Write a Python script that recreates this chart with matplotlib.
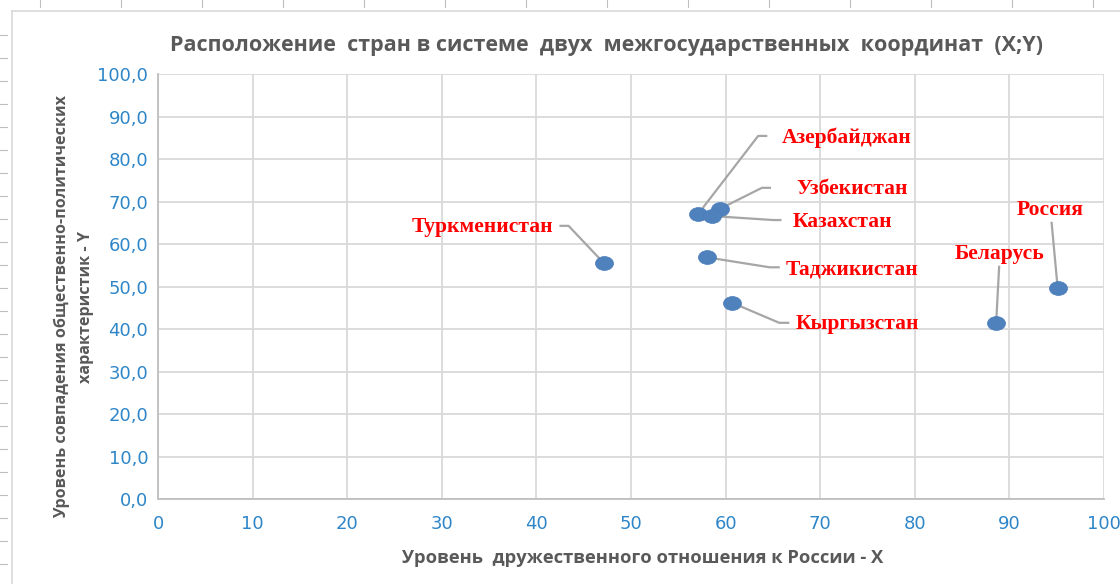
import matplotlib
matplotlib.use("Agg")
import matplotlib.pyplot as plt
from matplotlib.path import Path
from matplotlib.transforms import Affine2D
from matplotlib.lines import Line2D
import numpy as np

# ---------------- data ----------------
countries = ["Азербайджан", "Узбекистан", "Казахстан", "Таджикистан",
             "Кыргызстан", "Туркменистан", "Беларусь", "Россия"]
x_values = [57.1, 59.4, 58.6, 58.0, 60.7, 47.1, 88.6, 95.1]
y_values = [67.1, 68.3, 66.6, 56.9, 46.2, 55.6, 41.5, 49.7]
x_ticks = [0, 10, 20, 30, 40, 50, 60, 70, 80, 90, 100]
y_ticks = [0, 10, 20, 30, 40, 50, 60, 70, 80, 90, 100]

title = "Расположение  стран в системе  двух  межгосударственных  координат  (X;Y)"
xlabel = "Уровень  дружественного отношения к России - X"
ylabel = "Уровень совпадения общественно-политических\nхарактеристик - Y"

# leader-line layout in pixel offsets from the marker (image coords, y down):
# (list of vertices after the marker), text anchor offset, horizontal alignment
layout = {
    "Азербайджан": ([(60, -78), (68, -78)], (84, -76), "left"),
    "Узбекистан": ([(42, -21), (50, -21)], (77, -20), "left"),
    "Казахстан": ([(61, 4), (68, 4)], (80, 6), "left"),
    "Таджикистан": ([(63, 10), (72, 10)], (79, 12), "left"),
    "Кыргызстан": ([(47, 20), (56, 20)], (63, 21), "left"),
    "Туркменистан": ([(-35, -37), (-43, -37)], (-50, -36), "right"),
    "Беларусь": ([(3, -56)], (3, -69), "center"),
    "Россия": ([(-6, -65)], (-7, -78), "center"),
}

W, H = 1120, 584
fig = plt.figure(figsize=(W / 100, H / 100), dpi=100)
fig.patch.set_facecolor("white")

# chart-area border (screenshot frame)
fig.add_artist(Line2D([12 / W, 1.0], [1 - 11 / H, 1 - 11 / H], color="#D9D9D9", lw=1.2))
fig.add_artist(Line2D([12 / W, 12 / W], [0, 1 - 11 / H], color="#D9D9D9", lw=1.2))
for yy in range(35, 584, 23):
    fig.add_artist(Line2D([0, 7 / W], [1 - yy / H] * 2, color="#BFBFBF", lw=0.8))
for xx in range(40, 1120, 81):
    fig.add_artist(Line2D([xx / W] * 2, [1, 1 - 7 / H], color="#BFBFBF", lw=0.8))

ax = fig.add_axes([158 / W, 1 - 499.3 / H, (1104 - 158) / W, (499.3 - 74) / H])
ax.set_xlim(0, 100)
ax.set_ylim(0, 100)
ax.set_xticks(x_ticks)
ax.set_yticks(y_ticks)
ax.set_xticklabels([str(t) for t in x_ticks])
ax.set_yticklabels([f"{t:.1f}".replace(".", ",") for t in y_ticks])
ax.grid(True, color="#D9D9D9", lw=1.3)
ax.set_axisbelow(True)
for s in ["top", "right"]:
    ax.spines[s].set_visible(False)
for s in ["left", "bottom"]:
    ax.spines[s].set_color("#BFBFBF")
    ax.spines[s].set_linewidth(1.3)
ax.tick_params(length=0, colors="#2E86C8", labelsize=13)
ax.tick_params(axis="x", pad=11)
ax.tick_params(axis="y", pad=7)

# elliptical marker (screenshot slightly stretched horizontally)
ell = Path.unit_circle().transformed(Affine2D().scale(1.3, 1.0))

# leader lines
to_disp = ax.transData
inv = ax.transData.inverted()
for name, xv, yv in zip(countries, x_values, y_values):
    verts, toff, ha = layout[name]
    px, py = to_disp.transform((xv, yv))
    pts = [(px, py)] + [(px + dx, py - dy) for dx, dy in verts]
    dpts = inv.transform(pts)
    ax.plot(dpts[:, 0], dpts[:, 1], color="#A6A6A6", lw=1.6, zorder=2, clip_on=False)
    ax.annotate(name, (xv, yv), xytext=(toff[0], -toff[1]), textcoords="offset pixels",
                ha=ha, va="center", color="#FF0000", fontsize=15.5, fontweight="bold",
                family="Liberation Serif", zorder=4, annotation_clip=False)

ax.scatter(x_values, y_values, marker=ell, s=13 ** 2, color="#4F81BD",
           edgecolors="#4A7EBB", linewidths=0.5, zorder=3)

fig.text(607 / W, 1 - 45 / H, title, ha="center", va="center", color="#595959",
         fontsize=15.5, fontweight="bold", family="Open Sans")
fig.text(643 / W, 1 - 558 / H, xlabel, ha="center", va="center", color="#595959",
         fontsize=13.2, fontweight="bold", family="Open Sans")
fig.text(74 / W, 1 - 307 / H, ylabel, ha="center", va="center", color="#595959",
         fontsize=11.6, fontweight="bold", family="Open Sans", rotation=90,
         multialignment="center", linespacing=1.65)

fig.savefig("out.png", dpi=100)
